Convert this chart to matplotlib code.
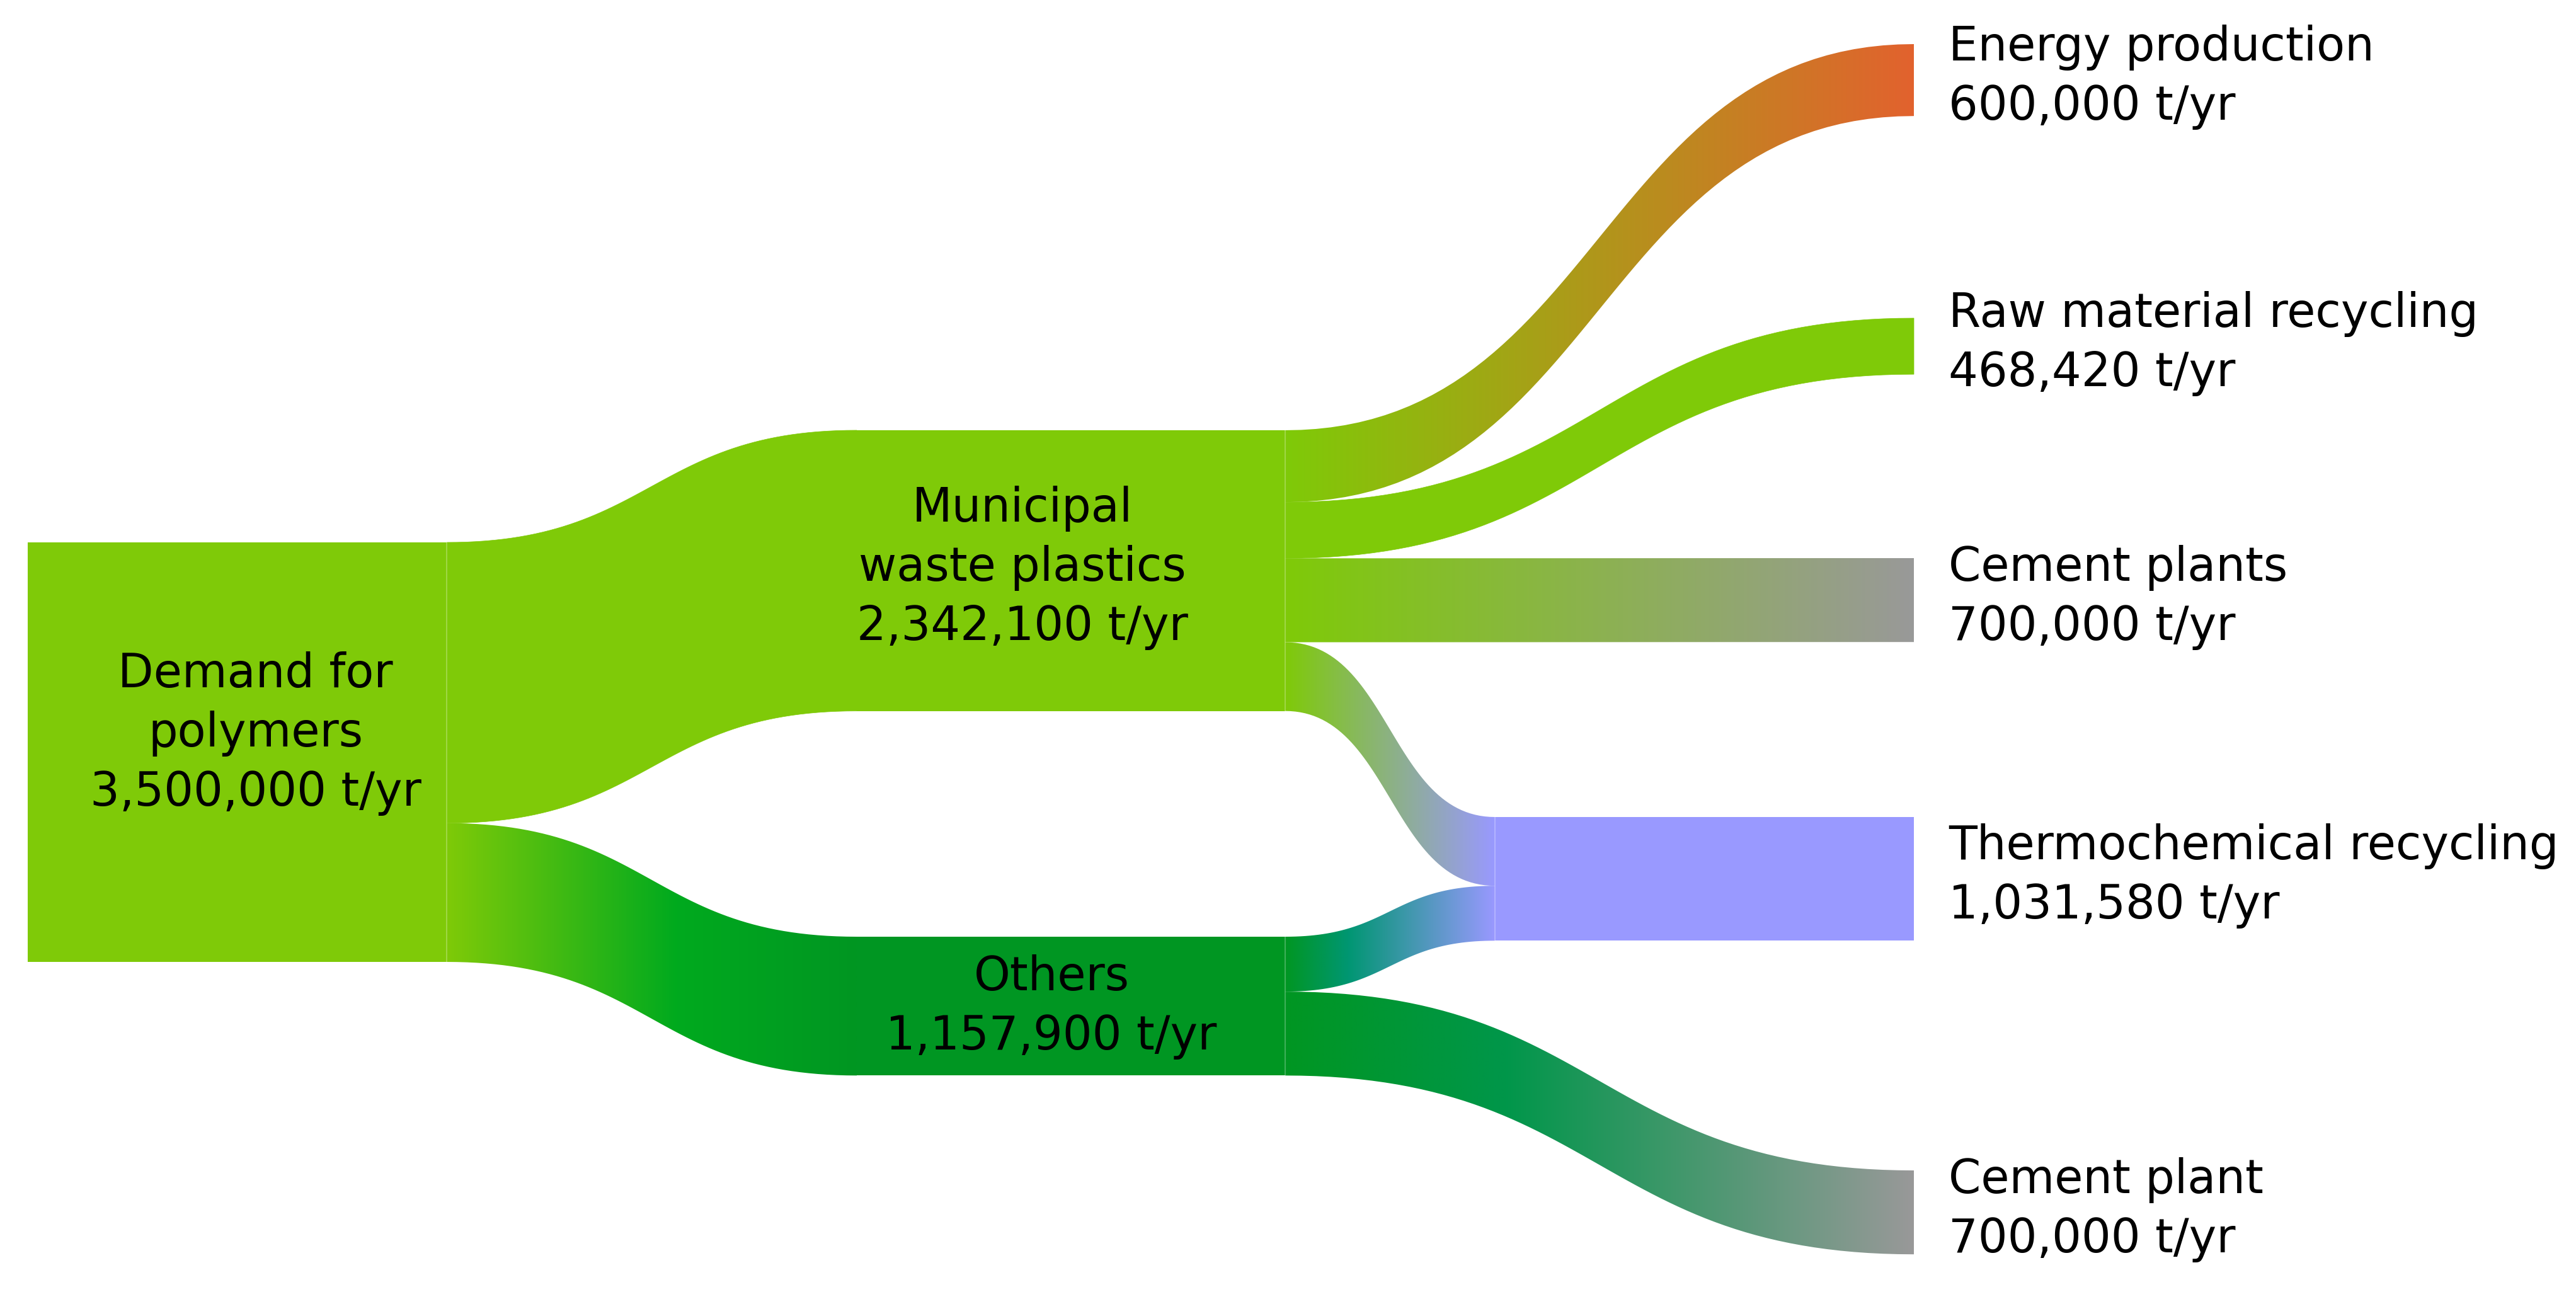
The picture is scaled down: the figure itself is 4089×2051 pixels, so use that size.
import numpy as np
import matplotlib
matplotlib.use('Agg')
import matplotlib.pyplot as plt
from matplotlib.path import Path
from matplotlib.patches import PathPatch, Rectangle
from matplotlib.colors import to_rgb

# data
node_names = ['Demand for\npolymers', 'Municipal\nwaste plastics', 'Others',
              'Energy production', 'Raw material recycling', 'Cement plants',
              'Thermochemical recycling', 'Cement plant']
flow_src = [0, 0, 1, 1, 1, 1, 2, 2]
flow_dst = [1, 2, 3, 4, 5, 6, 6, 7]
flow_val = [2342100, 1157900, 600000, 468420, 700000, 573680, 457900, 700000]

# layout (pixels of the 4089x2051 canvas)
W, H = 4089, 2051
scale = 666 / 3500000.0
node_x0 = [44, 1360, 1360, 3038, 3038, 3038, 2373, 3038]
node_x1 = [709, 2040, 2040, 3038, 3038, 3038, 3038, 3038]
node_top = [861, 683, 1487, 70, 505, 886, 1297, 1858]
lime = '#7fca08'
dgreen = '#009622'
node_col = [lime, lime, dgreen, '#e2622e', lime, '#999999', '#9999ff', '#999999']
# extra gradient stops per flow (position, colour)
flow_mid = [None, (0.56, '#00aa1e'), None, None, None, None,
            (0.30, '#009672'), (0.35, '#00964a')]
label_dx = [29, -77, -31, 55, 55, 55, 55, 55]
label_dy = [-25, 0, 6, 0, 0, 0, 0, 0]
fs = 53
pitch = 94

n = len(node_names)
node_val = [0.0] * n
for s, d, v in zip(flow_src, flow_dst, flow_val):
    node_val[d] += v
for i in range(n):
    out = sum(v for s, v in zip(flow_src, flow_val) if s == i)
    node_val[i] = max(node_val[i], out)
node_h = [v * scale for v in node_val]

fig = plt.figure(figsize=(W / 100, H / 100), dpi=100)
ax = fig.add_axes([0, 0, 1, 1])
ax.set_xlim(0, W)
ax.set_ylim(H, 0)
ax.axis('off')


def curve(xa, ya, xb, yb, k=60):
    t = np.linspace(0, 1, k)
    xm = (xa + xb) / 2
    x = (1 - t)**3 * xa + 3 * t * (1 - t)**2 * xm + 3 * t**2 * (1 - t) * xm + t**3 * xb
    y = (1 - t)**3 * ya + 3 * t * (1 - t)**2 * ya + 3 * t**2 * (1 - t) * yb + t**3 * yb
    return x, y


def gradient(stops, N=400):
    pos = np.array([p for p, c in stops])
    cols = np.array([to_rgb(c) for p, c in stops])
    t = np.linspace(0, 1, N)
    img = np.zeros((1, N, 3))
    for ch in range(3):
        img[0, :, ch] = np.interp(t, pos, cols[:, ch])
    return img


# nodes
for i in range(n):
    if node_x1[i] > node_x0[i]:
        ax.add_patch(Rectangle((node_x0[i], node_top[i]), node_x1[i] - node_x0[i],
                               node_h[i], facecolor=node_col[i], edgecolor='none', zorder=1))

# flows
out_off = [0.0] * n
in_off = [0.0] * n
for f in range(len(flow_val)):
    s, d, v = flow_src[f], flow_dst[f], flow_val[f]
    h = v * scale
    xa, xb = node_x1[s], node_x0[d]
    ya = node_top[s] + out_off[s]
    yb = node_top[d] + in_off[d]
    out_off[s] += h
    in_off[d] += h
    xt, yt = curve(xa, ya, xb, yb)
    xl, yl = curve(xa, ya + h, xb, yb + h)
    verts = np.concatenate([np.column_stack([xt, yt]), np.column_stack([xl[::-1], yl[::-1]])])
    path = Path(np.vstack([verts, verts[:1]]), closed=True)
    stops = [(0, node_col[s])]
    if flow_mid[f] is not None:
        stops.append(flow_mid[f])
    stops.append((1, node_col[d]))
    if node_col[s] == node_col[d] and flow_mid[f] is None:
        ax.add_patch(PathPatch(path, facecolor=node_col[s], edgecolor=node_col[s],
                               lw=0.5, zorder=2))
    else:
        patch = PathPatch(path, facecolor='none', edgecolor='none', zorder=2)
        ax.add_patch(patch)
        im = ax.imshow(gradient(stops), extent=(xa, xb, max(yt.max(), yl.max()) + 2,
                                                min(yt.min(), yl.min()) - 2),
                       aspect='auto', interpolation='bilinear', zorder=2)
        im.set_clip_path(patch)

# faint separators at node edges
for xs, i in [(709, 0), (2040, 1), (2040, 2), (2373, 6)]:
    ax.plot([xs, xs], [node_top[i], node_top[i] + node_h[i]], color='white',
            alpha=0.25, lw=1.5, zorder=3)

ax.set_xlim(0, W)
ax.set_ylim(H, 0)

# labels
for i in range(n):
    lines = node_names[i].split('\n') + ['{:,.0f} t/yr'.format(node_val[i])]
    c = node_top[i] + node_h[i] / 2
    b1 = c - len(lines) * pitch / 2 + 63 + label_dy[i]
    if node_x1[i] < W - 1100:
        x = (node_x0[i] + node_x1[i]) / 2 + label_dx[i]
        ha = 'center'
    else:
        x = node_x1[i] + label_dx[i]
        ha = 'left'
    for k, s in enumerate(lines):
        ax.text(x, b1 + k * pitch, s, ha=ha, va='baseline', fontsize=fs,
                family='DejaVu Sans', color='black', zorder=5)

fig.savefig('out.png', dpi=100, facecolor='white')
